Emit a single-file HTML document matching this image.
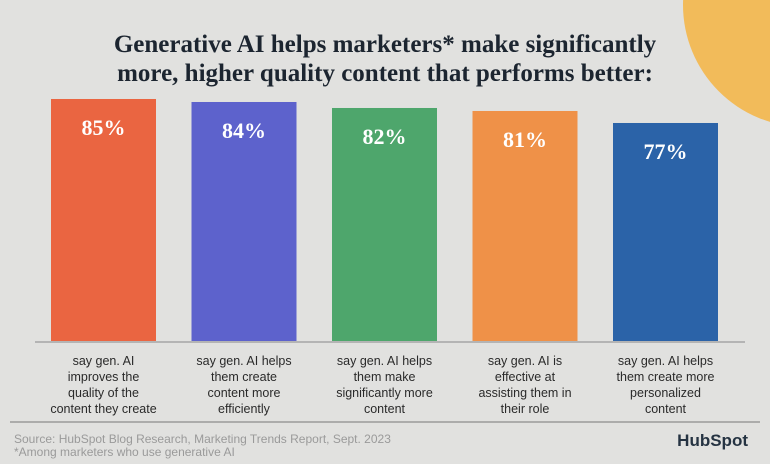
<!DOCTYPE html>
<html><head><meta charset="utf-8"><style>
body{margin:0;background:#e1e1df;}
svg{display:block;}
</style></head><body>
<svg width="770" height="464" viewBox="0 0 770 464">
<rect width="770" height="464" fill="#e1e1df"/>
<circle cx="805" cy="5" r="122" fill="#f2bb5a"/>
<g font-family="Liberation Serif, serif" font-weight="bold" font-size="25" fill="#1c2530" text-anchor="middle">
<text x="385" y="52">Generative AI helps marketers* make significantly</text>
<text x="385" y="81">more, higher quality content that performs better:</text>
</g>
<g id="bars"></g>
<line x1="35" y1="342" x2="745" y2="342" stroke="#a5a5a5" stroke-width="1.5"/>
<line x1="10" y1="422" x2="760" y2="422" stroke="#9a9a9a" stroke-width="1.5"/>
<g font-family="Liberation Sans, sans-serif" font-size="12" fill="#9a9a9a">
<text x="14" y="443">Source: HubSpot Blog Research, Marketing Trends Report, Sept. 2023</text>
<text x="14" y="456">*Among marketers who use generative AI</text>
</g>
<text x="748" y="446" text-anchor="end" font-family="Liberation Sans, sans-serif" font-weight="bold" font-size="17" fill="#253342">HubSpot</text>
</svg>
<script>
const categories=[["say gen. AI","improves the","quality of the","content they create"],["say gen. AI helps","them create","content more","efficiently"],["say gen. AI helps","them make","significantly more","content"],["say gen. AI is","effective at","assisting them in","their role"],["say gen. AI helps","them create more","personalized","content"]];
const values=[85,84,82,81,77];
const colors=["#ea6541","#5d62cc","#4ea66c","#ef9148","#2b63a8"];
const NS="http://www.w3.org/2000/svg";
const g=document.getElementById('bars');
const base=341, x0=51, step=140.5, bw=105;
function y(v){return base-(v-4.33)*3;}
function mk(t,a){const e=document.createElementNS(NS,t);for(const k in a)e.setAttribute(k,a[k]);return e;}
values.forEach((v,i)=>{
 const x=x0+i*step;
 const r=mk('rect',{x:x,y:y(v),width:bw,height:base-y(v),fill:colors[i]});
 
 
 g.appendChild(r);
 const t=mk('text',{x:x+bw/2,y:y(v)+36,'text-anchor':'middle','font-family':'Liberation Serif, serif','font-weight':'bold','font-size':'22',fill:'#fff'});
 t.textContent=v+'%';
 
 
 g.appendChild(t);
 const c=mk('text',{'text-anchor':'middle','font-family':'Liberation Sans, sans-serif','font-size':'12.5',fill:'#2a2a2a'});
 
 
 categories[i].forEach((l,j)=>{const s=mk('tspan',{x:x+bw/2,y:365+j*16});s.textContent=l;c.appendChild(s);});
 g.appendChild(c);
});
</script>
</body></html>
